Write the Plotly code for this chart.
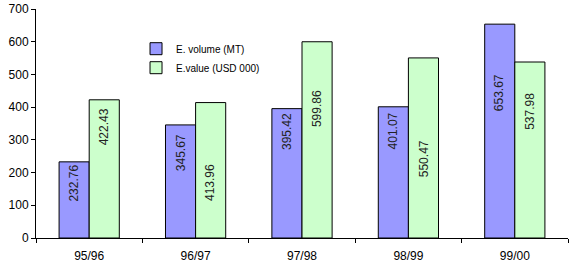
import math
import plotly.graph_objects as go

categories = ["95/96", "96/97", "97/98", "98/99", "99/00"]
volume_mt = [232.763, 345.673, 395.422, 401.074, 653.676]
value_usd000 = [422.436, 413.968, 599.868, 550.474, 537.984]
# centres of the rotated data labels (data units)
volume_label_y = [167, 261, 324, 327, 445]
value_label_y = [339, 170, 394, 242, 388]
y_ticks = [0, 100, 200, 300, 400, 500, 600, 700]

FONT = "Liberation Sans, Arial, sans-serif"

fig = go.Figure()
fig.add_trace(go.Bar(name="E. volume (MT)", x=categories, y=volume_mt,
                     marker=dict(color="#9999FF", line=dict(color="black", width=1))))
fig.add_trace(go.Bar(name="E.value (USD 000)", x=categories, y=value_usd000,
                     marker=dict(color="#CCFFCC", line=dict(color="black", width=1))))

def trunc(v):
    return f"{math.floor(v * 100) / 100:.2f}"

for cat, v, ly in zip(categories, volume_mt, volume_label_y):
    fig.add_annotation(x=cat, y=ly, xref="x", yref="y", text=trunc(v), textangle=-90,
                       showarrow=False, xshift=-15, font=dict(size=12, color="#222222", family=FONT))
for cat, v, ly in zip(categories, value_usd000, value_label_y):
    fig.add_annotation(x=cat, y=ly, xref="x", yref="y", text=trunc(v), textangle=-90,
                       showarrow=False, xshift=15, font=dict(size=12, color="#222222", family=FONT))

fig.update_layout(
    width=570, height=265,
    margin=dict(l=36, r=2, t=7, b=27),
    paper_bgcolor="white", plot_bgcolor="white",
    barmode="group", bargap=0.434, bargroupgap=0,
    font=dict(family=FONT, size=12, color="black"),
    showlegend=True,
    legend=dict(x=0.188, y=0.89, xanchor="left", yanchor="top",
                bgcolor="rgba(0,0,0,0)", font=dict(size=10, family=FONT),
                tracegroupgap=0, itemwidth=30),
)
fig.update_xaxes(showline=True, linecolor="black", linewidth=1, ticks="outside",
                 tickson="boundaries", ticklen=4, tickcolor="black", showgrid=False,
                 ticklabelstandoff=7, tickfont=dict(size=12))
fig.update_yaxes(range=[0, 700], tickvals=y_ticks, showline=True, linecolor="black",
                 linewidth=1, ticks="outside", ticklen=4, tickcolor="black",
                 showgrid=False, zeroline=False, tickfont=dict(size=12))

fig.write_html("out.html")
